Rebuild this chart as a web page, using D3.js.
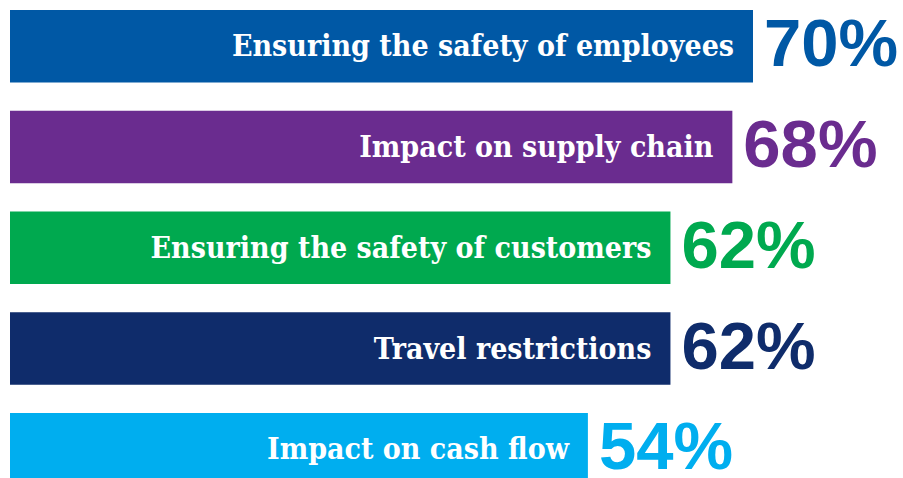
<!DOCTYPE html>
<html>
<head>
<meta charset="utf-8">
<script src="https://cdn.jsdelivr.net/npm/d3@7"></script>
<style>
  body { margin: 0; background: #fff; }
  .label { font-family: "DejaVu Serif", serif; font-weight: bold; font-stretch: condensed; fill: #fff; }
  .value { font-family: "Liberation Sans", Arial, sans-serif; font-weight: bold; }
</style>
</head>
<body>
<svg width="903" height="478"></svg>
<script>
//data
var categories = [
    "Ensuring the safety of employees",
    "Impact on supply chain",
    "Ensuring the safety of customers",
    "Travel restrictions",
    "Impact on cash flow"
];
var values = [70, 68, 62, 62, 54];
var valueLabels = ["70%", "68%", "62%", "62%", "54%"];
var barColors = ["#0058a5", "#6a2c8f", "#00a94f", "#0f2c6b", "#00aeef"];

var svg = d3.select("svg"),
    width = +svg.attr("width"),
    height = +svg.attr("height"),
    marginLeft = 10,
    marginTop = 10,
    step = 100.75,
    barHeight = 72.5;

//scales
var scaleX = d3.scaleLinear()
    .domain([-2, 70])
    .range([marginLeft, 753]);
var scaleY = d3.scaleBand()
    .domain(d3.range(categories.length))
    .range([marginTop, marginTop + step * (categories.length - 1) + barHeight])
    .paddingInner(1 - barHeight / step)
    .paddingOuter(0);

var rows = svg.selectAll("g.row")
    .data(values)
    .enter().append("g")
    .attr("class", "row")
    .attr("transform", (d, i) => "translate(0," + scaleY(i) + ")");

rows.append("rect")
    .attr("x", scaleX(-2))
    .attr("width", d => scaleX(d) - scaleX(-2))
    .attr("height", scaleY.bandwidth())
    .attr("fill", (d, i) => barColors[i]);

//category labels inside the bars
rows.append("text")
    .attr("class", "label")
    .attr("text-anchor", "end")
    .attr("x", d => scaleX(d) - 19)
    .attr("y", scaleY.bandwidth() / 2 + 10)
    .style("font-size", "30px")
    .text((d, i) => categories[i]);

//values after the bars
rows.append("text")
    .attr("class", "value")
    .attr("x", d => scaleX(d) + 11)
    .attr("y", scaleY.bandwidth() / 2 + 20)
    .style("font-size", "67px")
    .attr("fill", (d, i) => barColors[i])
    .text((d, i) => valueLabels[i]);
</script>
</body>
</html>
